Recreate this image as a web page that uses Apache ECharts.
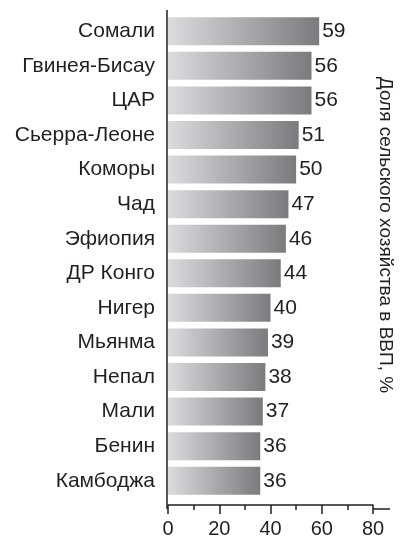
<!DOCTYPE html>
<html>
<head>
<meta charset="UTF-8">
<title></title>
<script src="https://cdn.jsdelivr.net/npm/echarts@6/dist/echarts.min.js"></script>
<style>
  html, body { margin: 0; padding: 0; background: #fff; }
  #chart { width: 401px; height: 539px; }
</style>
</head>
<body>
<div id="chart"></div>
<script type="text/javascript">
  // страны и доля сельского хозяйства в ВВП, %
  var countries = ['Сомали', 'Гвинея-Бисау', 'ЦАР', 'Сьерра-Леоне', 'Коморы', 'Чад', 'Эфиопия',
    'ДР Конго', 'Нигер', 'Мьянма', 'Непал', 'Мали', 'Бенин', 'Камбоджа'];
  var shares = [59, 56, 56, 51, 50, 47, 46, 44, 40, 39, 38, 37, 36, 36];
  var axisTitle = 'Доля сельского хозяйства в ВВП, %';

  var font = 'Liberation Sans, Arial, sans-serif';
  var ink = '#231f20';

  var chart = echarts.init(document.getElementById('chart'));
  chart.setOption({
    animation: false,
    grid: { left: 168, top: 14, width: 205, height: 488 },
    xAxis: {
      type: 'value', min: 0, max: 80, interval: 20, offset: 7,
      axisLine: { show: true, lineStyle: { color: ink, width: 1.5 } },
      axisTick: { show: true, length: 9, lineStyle: { color: ink, width: 1.5 } },
      minorTick: { show: true, splitNumber: 2, length: 5, lineStyle: { color: ink, width: 1.5 } },
      splitLine: { show: false },
      axisLabel: { color: ink, fontSize: 20, fontFamily: font, margin: 14 }
    },
    yAxis: {
      type: 'category', data: countries, inverse: true,
      axisLine: { show: false },
      axisTick: { show: false },
      axisLabel: { color: ink, fontSize: 21, fontFamily: font, margin: 13 }
    },
    series: [{
      type: 'bar', data: shares, barWidth: 28,
      itemStyle: {
        color: new echarts.graphic.LinearGradient(0, 0, 1, 0, [
          { offset: 0, color: '#dcdcde' },
          { offset: 1, color: '#7b7b7e' }
        ])
      },
      label: { show: true, position: 'right', distance: 3, color: ink, fontSize: 21, fontFamily: font }
    }],
    graphic: [
      { type: 'line', shape: { x1: 167, y1: 10, x2: 167, y2: 509 }, style: { stroke: ink, lineWidth: 1.5 } },
      { type: 'line', shape: { x1: 373, y1: 509, x2: 390, y2: 509 }, style: { stroke: ink, lineWidth: 1.5 } },
      { type: 'text', x: 385, y: 235, rotation: -Math.PI / 2,
        style: { text: axisTitle, fill: ink, fontSize: 19, fontFamily: font, align: 'center', verticalAlign: 'middle' } }
    ]
  });
</script>
</body>
</html>
